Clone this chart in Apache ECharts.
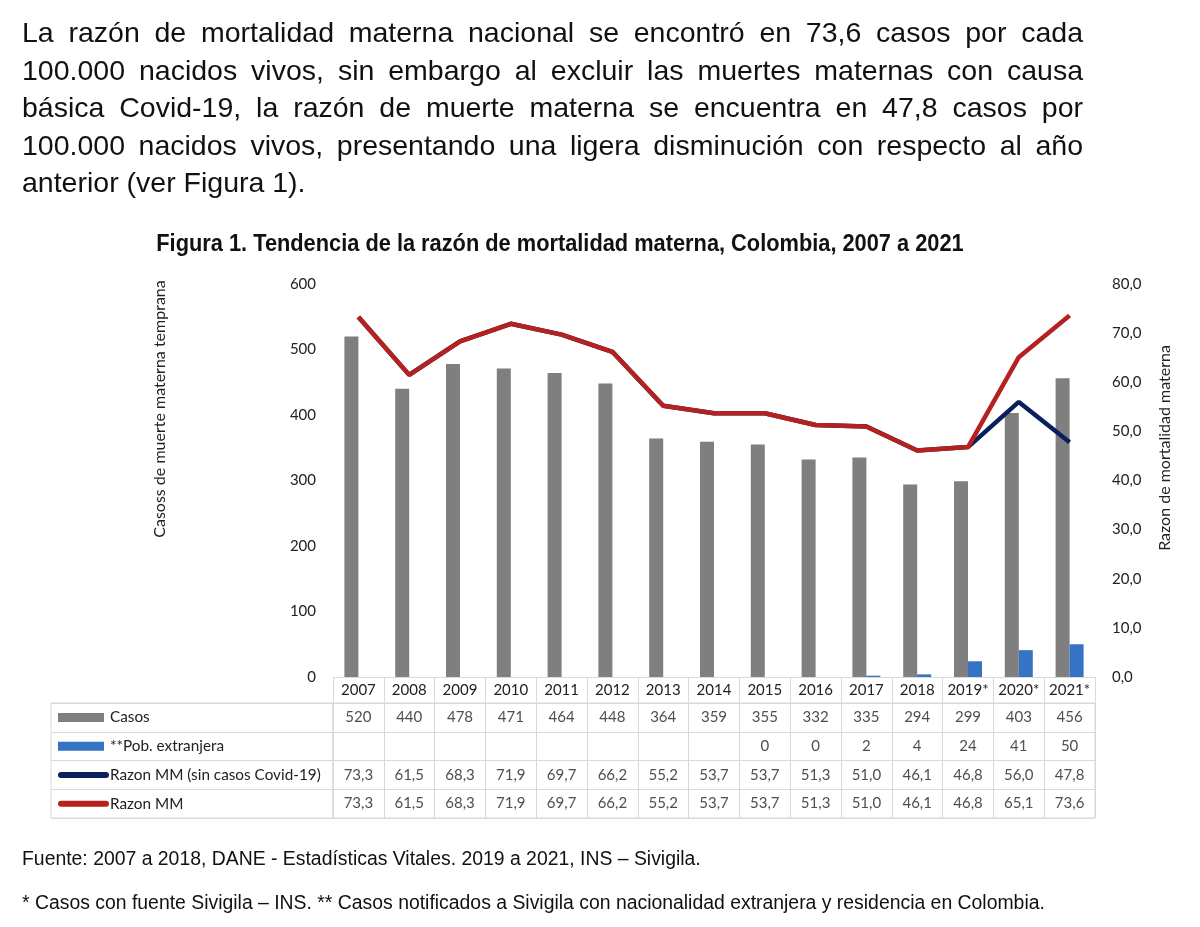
<!DOCTYPE html>
<html>
<head>
<meta charset="utf-8">
<script src="https://cdn.jsdelivr.net/npm/echarts@6/dist/echarts.min.js"></script>
<style>
  html, body { margin: 0; padding: 0; background: #fff; }
  #chart { position: absolute; left: 0; top: 0; width: 1200px; height: 927px; }
  .txt { position: absolute; font-family: "Liberation Sans", Arial, sans-serif; color: #111; pointer-events: none; }
  #parrafo { left: 22px; top: 14px; width: 1061px; font-size: 28.5px; }
  #parrafo div { height: 37.6px; line-height: 37.6px; white-space: nowrap; text-align: justify; text-align-last: justify; }
  #parrafo div.ultima { text-align-last: left; }
  /* no hay Arial Narrow: se comprime la negrita normal */
  #titulo { left: 0; width: 1120px; top: 229px; text-align: center; font-weight: bold; font-size: 24px; line-height: 28px; transform: scaleX(0.908); transform-origin: 560px 0; }
  .nota { left: 22px; font-size: 19.4px; line-height: 20px; white-space: nowrap; }
</style>
</head>
<body>
<div id="chart"></div>
<div id="parrafo" class="txt">
  <div>La razón de mortalidad materna nacional se encontró en 73,6 casos por cada</div>
  <div>100.000 nacidos vivos, sin embargo al excluir las muertes maternas con causa</div>
  <div>básica Covid-19, la razón de muerte materna se encuentra en 47,8 casos por</div>
  <div>100.000 nacidos vivos, presentando una ligera disminución con respecto al año</div>
  <div class="ultima">anterior (ver Figura 1).</div>
</div>
<div id="titulo" class="txt">Figura 1. Tendencia de la razón de mortalidad materna, Colombia, 2007 a 2021</div>
<div class="txt nota" style="top:848px">Fuente: 2007 a 2018, DANE - Estadísticas Vitales. 2019 a 2021, INS – Sivigila.</div>
<div class="txt nota" style="top:892px">* Casos con fuente Sivigila – INS. ** Casos notificados a Sivigila con nacionalidad extranjera y residencia en Colombia.</div>

<script>
// datos de la figura 1
const anios = ['2007', '2008', '2009', '2010', '2011', '2012', '2013', '2014', '2015', '2016', '2017', '2018', '2019*', '2020*', '2021*']
const casos = [520, 440, 478, 471, 464, 448, 364, 359, 355, 332, 335, 294, 299, 403, 456]
const pobExtranjera = [null, null, null, null, null, null, null, null, 0, 0, 2, 4, 24, 41, 50]
const razonSinCovid = [73.3, 61.5, 68.3, 71.9, 69.7, 66.2, 55.2, 53.7, 53.7, 51.3, 51.0, 46.1, 46.8, 56.0, 47.8]
const razonMM = [73.3, 61.5, 68.3, 71.9, 69.7, 66.2, 55.2, 53.7, 53.7, 51.3, 51.0, 46.1, 46.8, 65.1, 73.6]
const filas = ['Casos', '**Pob. extranjera', 'Razon MM (sin casos Covid-19)', 'Razon MM']

const colores = ['#7f7f7f', '#3574c4', '#0b1f5c', '#b5211e']
const fuente = 'Lato, "Open Sans", sans-serif'
const borde = '#d9d9d9'

const coma = v => v.toFixed(1).replace('.', ',')

// celdas de la tabla: [columna, fila, texto]
const celdas = []
casos.forEach((v, i) => celdas.push([i, 0, String(v)]))
pobExtranjera.forEach((v, i) => { if (v !== null) celdas.push([i, 1, String(v)]) })
razonSinCovid.forEach((v, i) => celdas.push([i, 2, coma(v)]))
razonMM.forEach((v, i) => celdas.push([i, 3, coma(v)]))

const chart = echarts.init(document.getElementById('chart'))

chart.setOption({
  backgroundColor: '#fff',
  animation: false,
  textStyle: { fontFamily: fuente },
  grid: [
    { left: 333, right: 105, top: 284, height: 393 },
    { left: 333, right: 105, top: 703, height: 115, show: true, borderColor: borde, borderWidth: 1 },
    { left: 51, width: 282, top: 703, height: 115, show: true, borderColor: borde, borderWidth: 1 }
  ],
  xAxis: [
    {
      type: 'category',
      gridIndex: 0,
      data: anios,
      axisLine: { lineStyle: { color: borde } },
      axisTick: { show: true, interval: 0, length: 26, lineStyle: { color: borde } },
      axisLabel: { interval: 0, margin: 6, color: '#222', fontSize: 15, fontFamily: fuente }
    },
    {
      type: 'category',
      gridIndex: 1,
      data: anios,
      axisLine: { show: false },
      axisTick: { show: false },
      axisLabel: { show: false },
      splitLine: { show: true, interval: 0, lineStyle: { color: borde } }
    },
    { type: 'value', gridIndex: 2, show: false }
  ],
  yAxis: [
    {
      type: 'value',
      gridIndex: 0,
      min: 0,
      max: 600,
      interval: 100,
      axisLine: { show: false },
      axisTick: { show: false },
      splitLine: { show: false },
      axisLabel: { margin: 17, color: '#222', fontSize: 15, fontFamily: fuente }
    },
    {
      type: 'value',
      gridIndex: 0,
      position: 'right',
      min: 0,
      max: 80,
      interval: 10,
      axisLine: { show: false },
      axisTick: { show: false },
      splitLine: { show: false },
      axisLabel: { margin: 17, color: '#222', fontSize: 15, fontFamily: fuente, formatter: v => coma(v) }
    },
    {
      type: 'category',
      gridIndex: 1,
      data: filas,
      inverse: true,
      axisLine: { show: false },
      axisTick: { show: false },
      axisLabel: { show: false },
      splitLine: { show: true, interval: 0, lineStyle: { color: borde } }
    },
    {
      type: 'category',
      gridIndex: 2,
      data: filas,
      inverse: true,
      axisLine: { show: false },
      axisTick: { show: false },
      splitLine: { show: true, interval: 0, lineStyle: { color: borde } },
      axisLabel: {
        inside: true,
        interval: 0,
        margin: 7,
        formatter: (nombre, i) => '{k' + i + '|}{t' + (i < 2 ? 'a' : 'b') + '|' + nombre + '}',
        rich: {
          k0: { backgroundColor: colores[0], width: 46, height: 9 },
          k1: { backgroundColor: colores[1], width: 46, height: 9 },
          k2: { backgroundColor: colores[2], width: 51, height: 6, borderRadius: 3 },
          k3: { backgroundColor: colores[3], width: 51, height: 6, borderRadius: 3 },
          ta: { color: '#222', fontSize: 15.3, fontFamily: fuente, padding: [0, 0, 0, 6] },
          tb: { color: '#222', fontSize: 15.3, fontFamily: fuente, padding: [0, 0, 0, 1] }
        }
      }
    }
  ],
  series: [
    {
      name: filas[0],
      type: 'bar',
      xAxisIndex: 0,
      yAxisIndex: 0,
      data: casos,
      barWidth: 14,
      barGap: '0%',
      itemStyle: { color: colores[0] }
    },
    {
      name: filas[1],
      type: 'bar',
      xAxisIndex: 0,
      yAxisIndex: 0,
      data: pobExtranjera,
      barWidth: 14,
      barGap: '0%',
      itemStyle: { color: colores[1] }
    },
    {
      name: filas[2],
      type: 'line',
      xAxisIndex: 0,
      yAxisIndex: 1,
      data: razonSinCovid,
      symbol: 'none',
      lineStyle: { color: colores[2], width: 4.5 }
    },
    {
      name: filas[3],
      type: 'line',
      xAxisIndex: 0,
      yAxisIndex: 1,
      data: razonMM,
      symbol: 'none',
      lineStyle: { color: colores[3], width: 4.5 }
    },
    {
      type: 'scatter',
      xAxisIndex: 1,
      yAxisIndex: 2,
      data: celdas,
      symbolSize: 1,
      itemStyle: { color: 'rgba(0,0,0,0)' },
      label: {
        show: true,
        position: 'inside',
        color: '#222',
        fontSize: 15,
        fontFamily: fuente,
        formatter: p => p.value[2]
      }
    }
  ],
  graphic: [
    {
      type: 'text',
      x: 160,
      y: 409,
      rotation: Math.PI / 2,
      style: { text: 'Casoss de muerte materna temprana', fill: '#222', font: '16px ' + fuente, align: 'center', verticalAlign: 'middle' }
    },
    {
      type: 'text',
      x: 1165,
      y: 448,
      rotation: Math.PI / 2,
      style: { text: 'Razon de mortalidad materna', fill: '#222', font: '16px ' + fuente, align: 'center', verticalAlign: 'middle' }
    }
  ]
})
</script>
</body>
</html>
